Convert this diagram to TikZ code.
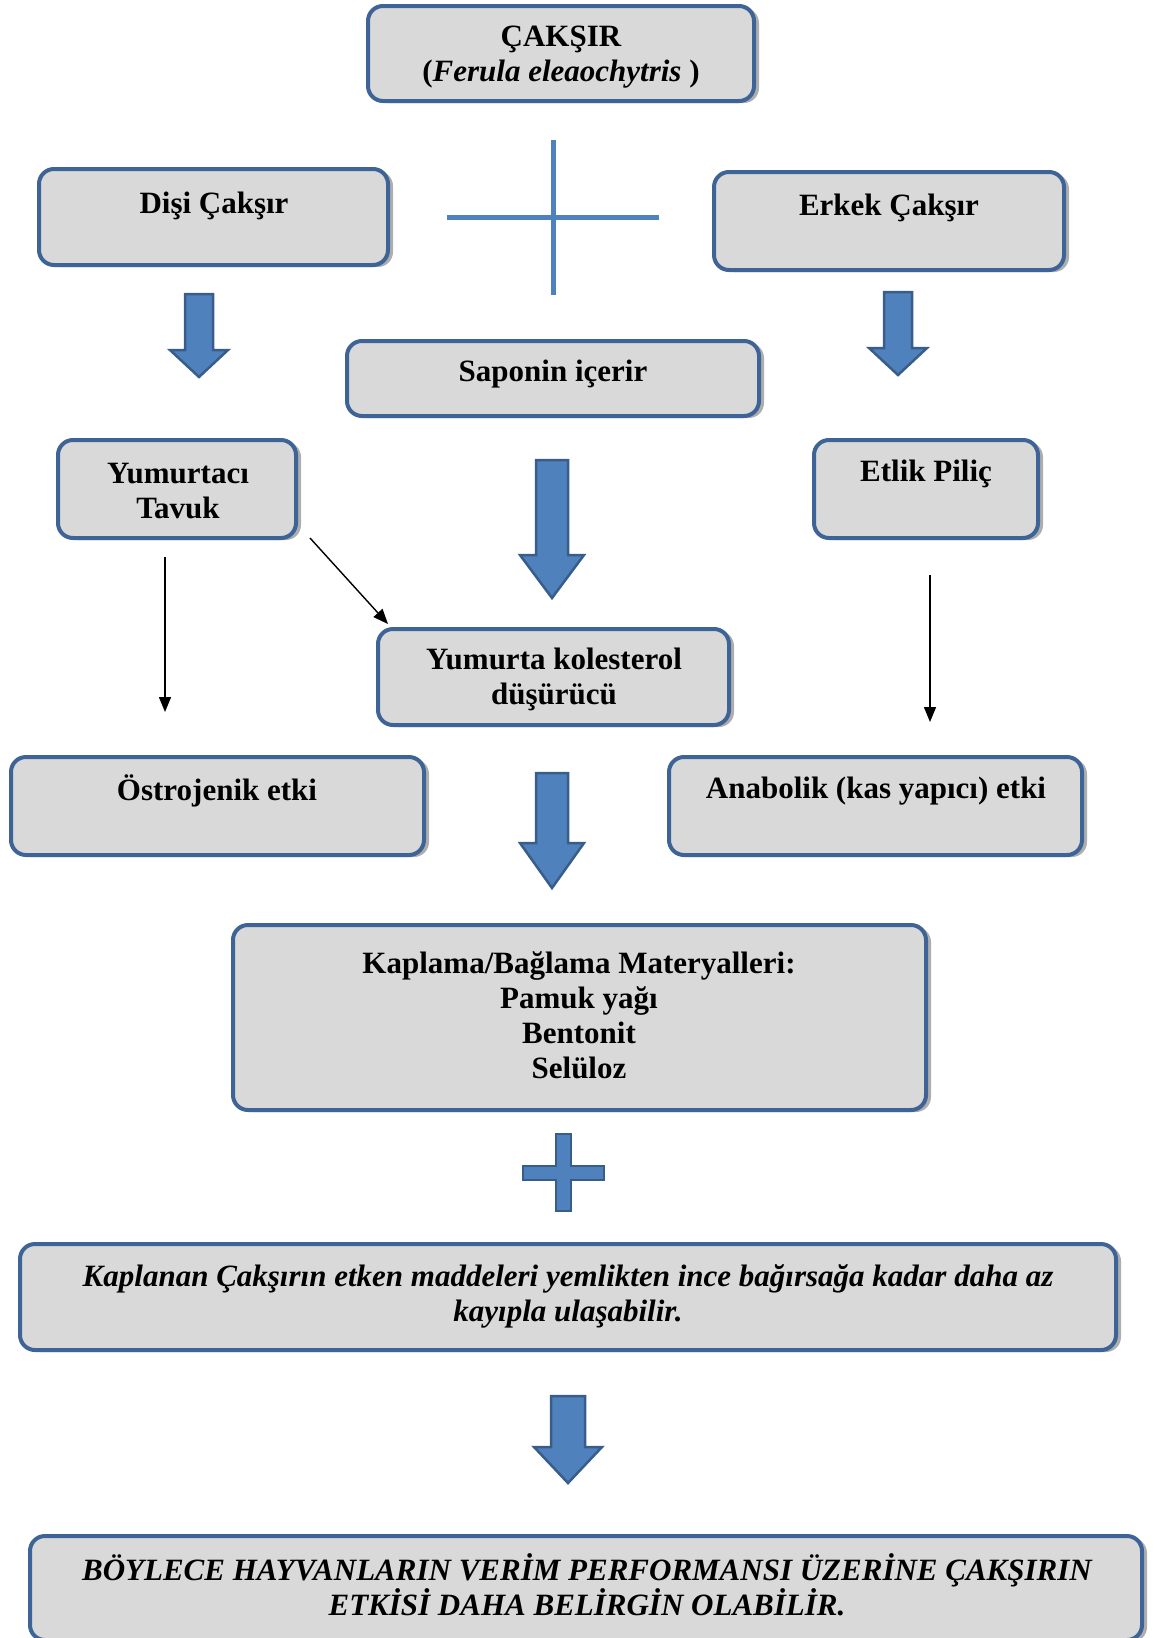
\documentclass[tikz,border=0pt]{standalone}
\usepackage{fontspec}
\setmainfont{Liberation Serif}
\usetikzlibrary{shadows,arrows.meta}
\definecolor{boxfill}{HTML}{D9D9D9}
\definecolor{boxline}{HTML}{3E6497}
\definecolor{arrfill}{HTML}{4F81BD}
\definecolor{arrline}{HTML}{385D8A}
\tikzset{
  panel/.style={draw=boxline, line width=4pt, fill=boxfill, rounded corners=15pt,
    drop shadow={shadow xshift=5pt, shadow yshift=-2pt, fill=gray!90, opacity=0.7}},
  label/.style={font=\fontsize{31}{35}\selectfont\bfseries, align=center, inner sep=0pt},
  ilabel/.style={label, font=\fontsize{31}{35}\selectfont\bfseries\itshape},
  thin/.style={line width=1.4pt, -{Triangle[length=15pt,width=12pt]}},
  blockarr/.style={fill=arrfill, draw=arrline, line width=2.5pt, line join=miter},
}
% #1 centre x, #2 top y, #3 half shaft width, #4 half head width, #5 head start y, #6 tip y
\newcommand{\blockarrow}[6]{%
  \path[blockarr] (#1-#3,#2) -- (#1+#3,#2) -- (#1+#3,#5) -- (#1+#4,#5) -- (#1,#6)
    -- (#1-#4,#5) -- (#1-#3,#5) -- cycle;}
\begin{document}
\begin{tikzpicture}[x=1pt,y=-1pt]
\useasboundingbox (0,0) rectangle (1167,1638);

% boxes
\path[panel] (368,6) rectangle (754,101);
\path[panel] (39,169) rectangle (388,265);
\path[panel] (714,172) rectangle (1064,270);
\path[panel] (347,341) rectangle (759,416);
\path[panel] (58,440) rectangle (296,538);
\path[panel] (814,440) rectangle (1038,538);
\path[panel] (378,629) rectangle (729,725);
\path[panel] (11,757) rectangle (424,855);
\path[panel] (669,757) rectangle (1082,855);
\path[panel] (233,925) rectangle (926,1110);
\path[panel] (20,1244) rectangle (1116,1350);
\path[panel] (30,1536) rectangle (1142,1640);

% texts (nodes)
\node[label] (cak) at (561,57) {ÇAKŞIR\\(\textit{Ferula eleaochytris} )};
\node[label] (disi) at (214,206) {Dişi Çakşır};
\node[label] (erkek) at (889,208) {Erkek Çakşır};
\node[label] (sap) at (553,374) {Saponin içerir};
\node[label] (yum) at (178,491) {Yumurtacı\\Tavuk};
\node[label] (etlik) at (926,474) {Etlik Piliç};
\node[label] (kol) at (554,679) {Yumurta kolesterol\\düşürücü};
\node[label] (ost) at (217,791) {Östrojenik etki};
\node[label] (ana) at (876,791) {Anabolik (kas yapıcı) etki};
\node[label] (kap) at (579,1015) {Kaplama/Bağlama Materyalleri:\\Pamuk yağı\\Bentonit\\Selüloz};
\node[ilabel] (kapl) at (568,1296) {Kaplanan Çakşırın etken maddeleri yemlikten ince bağırsağa kadar daha az\\kayıpla ulaşabilir.};
\node[ilabel] (son) at (587,1585) {BÖYLECE HAYVANLARIN VERİM PERFORMANSI ÜZERİNE ÇAKŞIRIN\\ETKİSİ DAHA BELİRGİN OLABİLİR.};

% top cross
\draw[arrfill, line width=5pt] (553,140) -- (553,295);
\draw[arrfill, line width=5pt] (447,217) -- (659,217);

% block arrows
\blockarrow{199}{294}{14}{29}{350}{377}
\blockarrow{898}{292}{14}{29}{348}{375}
\blockarrow{552}{460}{16}{32}{555}{598}
\blockarrow{552}{773}{16}{32}{843}{888}
\blockarrow{568}{1396}{17}{34}{1447}{1483}

% bottom plus
\path[blockarr, line width=1.5pt] (556,1134) -- (571,1134) -- (571,1166) -- (604,1166) -- (604,1180)
  -- (571,1180) -- (571,1211) -- (556,1211) -- (556,1180) -- (523,1180) -- (523,1166)
  -- (556,1166) -- cycle;

% thin arrows
\coordinate (y1s) at (165,557);
\coordinate (y1e) at (165,712);
\coordinate (y2s) at (310,538);
\coordinate (y2e) at (388,624);
\coordinate (e1s) at (930,575);
\coordinate (e1e) at (930,722);
\draw[thin] (y1s) -- (y1e);
\draw[thin] (y2s) -- (y2e);
\draw[thin] (e1s) -- (e1e);
\end{tikzpicture}
\end{document}
